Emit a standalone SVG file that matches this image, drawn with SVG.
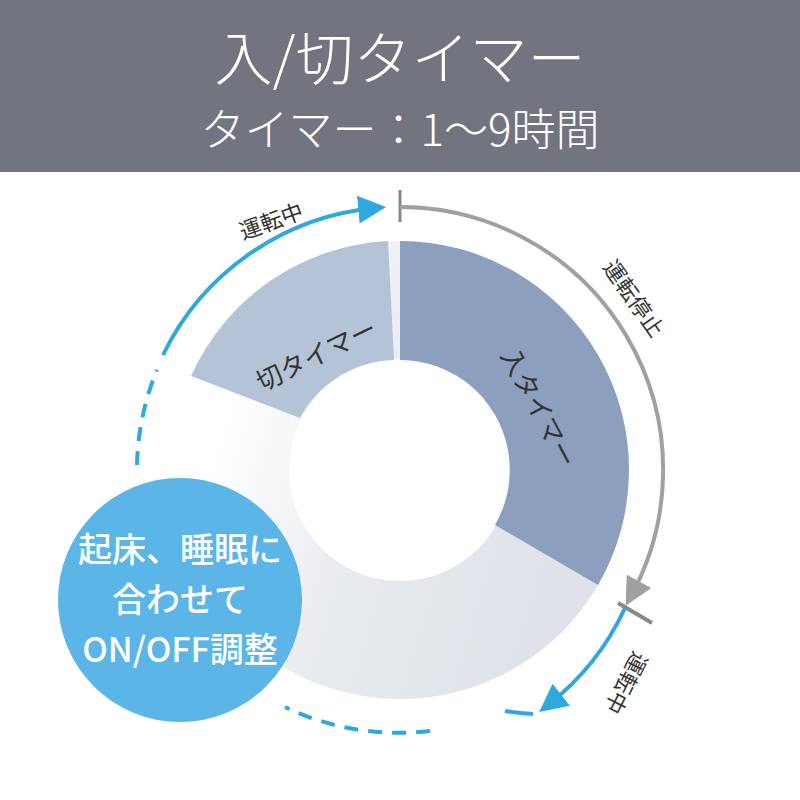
<svg xmlns="http://www.w3.org/2000/svg" width="800" height="800" viewBox="0 0 800 800">
<style>
.jp{font-family:"Noto Sans CJK JP","Noto Sans",sans-serif}
.lbl{font-size:22px;fill:#333}
.seg{font-size:26px;fill:#333}
</style>
<defs>
<linearGradient id="g" x1="1" y1="0.6" x2="0" y2="0.3">
<stop offset="0" stop-color="#dfe3e9"/><stop offset="0.55" stop-color="#e8ebef"/><stop offset="1" stop-color="#ffffff"/>
</linearGradient>
<marker id="ag" viewBox="0 0 10 10" markerWidth="28" markerHeight="28" refX="6" refY="5" orient="auto" markerUnits="userSpaceOnUse"><path d="M0,0L10,5L0,10z" fill="#a0a0a0"/></marker>
<marker id="ab2" viewBox="0 0 10 10" markerWidth="28" markerHeight="28" refX="6" refY="5" orient="auto" markerUnits="userSpaceOnUse"><path d="M0,0L10,5L0,10z" fill="#2fa8e0"/></marker>
</defs>
<rect width="800" height="800" fill="#fff"/>
<g id="header">
<rect x="0" y="0" width="800" height="172" fill="#727580"/>
<text x="400" y="80" text-anchor="middle" class="jp" font-size="58" font-weight="300" fill="#fff">入/切タイマー</text>
<text x="400" y="146" text-anchor="middle" class="jp" font-size="44" font-weight="300" fill="#fff">タイマー：1～9時間</text>
</g>
<g id="donut">
<circle cx="400" cy="470" r="170" fill="none" stroke="url(#g)" stroke-width="118"/>
<path id="seg-on" d="M400,241 A229,229 0 0 1 598,585 L495,525 A110,110 0 0 0 400,360 Z" fill="#8c9fbf"/>
<path id="seg-off" d="M191,376 A229,229 0 0 1 388,241 L394,360 A110,110 0 0 0 300,418 Z" fill="#b5c3d6"/>
<text class="jp seg" transform="translate(500,355) rotate(62)">入タイマー</text>
<text class="jp seg" transform="translate(262,392) rotate(-26)">切タイマー</text>
</g>
<g id="connectors" fill="none">
<line x1="400" y1="190" x2="400" y2="222" stroke="#888" stroke-width="3"/>
<path d="M400,207 A263,263 0 0 1 631,596" stroke="#a0a0a0" stroke-width="4" marker-end="url(#ag)"/>
<line x1="618" y1="603" x2="652" y2="623" stroke="#888" stroke-width="4"/>
<path d="M625,608 A263,263 0 0 1 548,705" stroke="#2fa8e0" stroke-width="4" marker-end="url(#ab2)"/>
<path d="M533,714 A263,263 0 0 1 505,711" stroke="#2fa8e0" stroke-width="4"/>
<path d="M430,731 A263,263 0 0 1 285,707" stroke="#2fa8e0" stroke-width="4" stroke-dasharray="14,10"/>
<path d="M137,465 A263,263 0 0 1 157,370" stroke="#2fa8e0" stroke-width="4" stroke-dasharray="14,10"/>
<path d="M163,355 A263,263 0 0 1 375,208" stroke="#2fa8e0" stroke-width="4" marker-end="url(#ab2)"/>
<text class="jp lbl" transform="translate(243,240) rotate(-20)">運転中</text>
<text class="jp lbl" transform="translate(602,267) rotate(55)">運転停止</text>
<text class="jp lbl" transform="translate(634,650) rotate(117)">運転中</text>
</g>
<g id="bubble">
<circle cx="180" cy="600" r="122" fill="#5bb5e6"/>
<g class="jp" font-size="34" font-weight="500" fill="#fff" text-anchor="middle">
<text x="180" y="562">起床、睡眠に</text>
<text x="180" y="612">合わせて</text>
<text x="180" y="662">ON/OFF調整</text>
</g>
</g>
</svg>
